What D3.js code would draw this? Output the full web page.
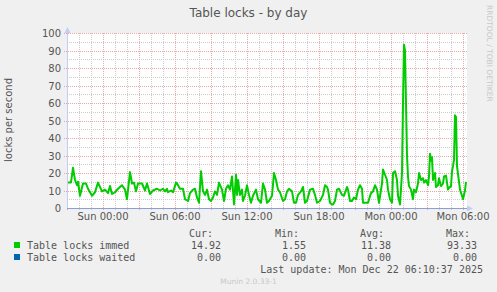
<!DOCTYPE html>
<html>
<head>
<meta charset="utf-8" />
<title>Table locks - by day</title>
<style>
  body { margin: 0; background: #f0f0f0; }
  svg { display: block; }
  .sans { font-family: "DejaVu Sans", sans-serif; }
  .mono { font-family: "DejaVu Sans Mono", monospace; }
</style>
</head>
<body>
<div id="chart"></div>
<script src="https://d3js.org/d3.v7.min.js"></script>
<script>
// sample times, minutes after Sat 21:00, and readings (locks per second)
var sampleMinutes = [0,10,20,30,40,50,55,65,80,95,105,125,140,155,175,190,205,215,225,240,
  255,275,290,300,315,325,335,345,355,375,390,400,415,430,450,465,480,490,500,505,
  520,530,545,550,565,580,590,605,615,630,640,650,660,670,680,690,700,710,720,730,
  740,750,760,775,785,795,805,815,825,835,845,850,855,865,875,880,890,900,910,920,
  930,945,955,970,980,990,1000,1010,1025,1035,1045,1055,1065,1080,1090,1100,1110,1125,1135,1145,
  1155,1170,1180,1190,1200,1215,1230,1240,1250,1265,1280,1290,1300,1305,1315,1325,1330,1340,1350,1360,
  1375,1385,1400,1405,1415,1425,1435,1445,1455,1465,1475,1480,1495,1505,1520,1530,1540,1550,1560,1575,
  1580,1590,1600,1605,1615,1625,1630,1640,1650,1655,1665,1675,1680,1685,1690,1695,1700,1705,1710,1720,
  1730,1735,1745,1755,1760,1770,1780,1785,1795,1805,1810,1815,1820,1825,1830,1840,1845,1855,1860,1870,
  1880,1885,1895,1905,1910,1920,1925,1930,1935,1940,1945,1950,1960,1965,1975,1980,1990,1995];
var immedValues = [14.6,14.6,14.6,23,16,13,15,7,14,14,11,7,9,14.5,9.5,10.5,8.5,12.6,8,9,
  11,13,10.5,5,20.5,14,14.5,9.5,14,14,10,14,8,10,11,10,11,9.5,11,9,
  10,9,14.5,14,11,11,5,4,8.5,10.5,11,6,3,21,9.5,7.5,10.5,5,4,6,
  9.5,7.5,14.5,10.5,4,11,13,10.5,18,2,19,7.5,16,7.5,10.5,4,7,13,7.5,3,
  7,10.5,5,3,14,10.5,3,4,7,20,16,10.5,9,4,5,9.5,11,9.5,3,3,
  7.5,9.5,12,3,4,10.5,11,7.5,3,4,7.5,13,12,10.5,3,2,2,4,10.5,11,
  7.5,7,12,10.5,4,4,6,5,10.5,13,11,3,3,3,8.5,9.5,13,10.5,3,14,
  22,19,16,10.5,5,3,20,21,16,7,2,20,60,93.33,90,60,30,18,12.5,10.5,
  5,10.5,9,14,20,16,17,14.5,16,13,18,31,27,29,16,20,12,13,17,12.5,
  14,18,18.5,10.5,11.5,12.5,21,24,27.5,53,52,24,15,10.5,7,5,10,14.92];
var waitedValues = sampleMinutes.map(function() { return 0; });

var yTicks = [0,10,20,30,40,50,60,70,80,90,100];
var legendNames = ["Table locks immed", "Table locks waited"];
var legendColors = ["#00cc00", "#0066b3"];
var statHeads = ["Cur:", "Min:", "Avg:", "Max:"];
var statRows = [["14.92", "1.55", "11.38", "93.33"], ["0.00", "0.00", "0.00", "0.00"]];

var W = 497, H = 292;
var start = new Date(Date.UTC(2025, 11, 20, 21, 0));
var end = new Date(Date.UTC(2025, 11, 22, 6, 20));

var svg = d3.select("#chart").append("svg").attr("width", W).attr("height", H);
svg.append("rect").attr("width", W).attr("height", H).attr("fill", "#f0f0f0");

var x = d3.scaleUtc().domain([start, end]).range([67, 467]);
var y = d3.scaleLinear().domain([0, 100]).range([208, 33]);

// plot background
svg.append("rect").attr("x", 67).attr("y", 33).attr("width", 400).attr("height", 175).attr("fill", "#fff");

// grid
var g = svg.append("g").attr("shape-rendering", "crispEdges");
var minorY = d3.range(5, 101, 10);
g.selectAll(".hmin").data(minorY).enter().append("line")
  .attr("x1", 67).attr("x2", 467)
  .attr("y1", d => Math.round(y(d)) + 0.5).attr("y2", d => Math.round(y(d)) + 0.5)
  .attr("stroke", "#cccccc").attr("stroke-dasharray", "1,1");
var hours = d3.utcHour.range(start, end).filter(d => d.getUTCHours() % 3 != 0);
g.selectAll(".vmin").data(hours).enter().append("line")
  .attr("x1", d => Math.round(x(d)) + 0.5).attr("x2", d => Math.round(x(d)) + 0.5)
  .attr("y1", 33).attr("y2", 210)
  .attr("stroke", "#cccccc").attr("stroke-dasharray", "1,1");
g.selectAll(".hmaj").data(yTicks.slice(1)).enter().append("line")
  .attr("x1", 64).attr("x2", 467)
  .attr("y1", d => Math.round(y(d)) + 0.5).attr("y2", d => Math.round(y(d)) + 0.5)
  .attr("stroke", "#e8a8a8").attr("stroke-dasharray", "1,1");
var majors = d3.utcHour.every(3).range(start, end);
g.selectAll(".vmaj").data(majors).enter().append("line")
  .attr("x1", d => Math.round(x(d)) + 0.5).attr("x2", d => Math.round(x(d)) + 0.5)
  .attr("y1", 33).attr("y2", 211)
  .attr("stroke", "#e8a8a8").attr("stroke-dasharray", "1,1");

// data lines
var pts = sampleMinutes.map(function(m, i) {
  return { t: new Date(start.getTime() + m * 60000), v: immedValues[i], w: waitedValues[i] };
});
svg.append("path").datum(pts)
  .attr("fill", "none").attr("stroke", legendColors[0]).attr("stroke-width", 2)
  .attr("stroke-linejoin", "round")
  .attr("d", d3.line().x(d => x(d.t)).y(d => y(d.v)));

// axes
svg.append("line").attr("x1", 67.5).attr("x2", 67.5).attr("y1", 30).attr("y2", 209)
  .attr("stroke", "#c4ccf4");
svg.append("path").attr("d", "M64.5,33 L67.5,27 L70.5,33 Z").attr("fill", "#c4ccf4");
svg.append("path").datum(pts)
  .attr("fill", "none").attr("stroke", "#8c9ed8").attr("stroke-width", 1)
  .attr("d", d3.line().x(d => x(d.t)).y(d => Math.round(y(d.w)) + 0.5));
svg.append("line").attr("x1", 67).attr("x2", 470).attr("y1", 208.5).attr("y2", 208.5)
  .attr("stroke", "#8c9ed8");
svg.append("path").attr("d", "M467,205.5 L473,208.5 L467,211.5 Z").attr("fill", "#c4ccf4");

// tick labels
svg.selectAll(".yl").data(yTicks).enter().append("text")
  .attr("class", "sans").attr("x", 61).attr("y", d => y(d) + 4)
  .attr("text-anchor", "end").attr("font-size", 10).attr("fill", "#555")
  .text(d => d);
var fmt = d3.utcFormat("%a %H:%M");
svg.selectAll(".xl").data(d3.utcHour.every(6).range(start, end)).enter().append("text")
  .attr("class", "sans").attr("x", d => x(d)).attr("y", 220)
  .attr("text-anchor", "middle").attr("font-size", 10).attr("fill", "#555")
  .text(d => fmt(d));

// titles
svg.append("text").attr("class", "sans").attr("x", 248.5).attr("y", 17)
  .attr("text-anchor", "middle").attr("font-size", 12).attr("fill", "#555")
  .text("Table locks - by day");
svg.append("text").attr("class", "sans")
  .attr("transform", "translate(12,120) rotate(-90)")
  .attr("text-anchor", "middle").attr("font-size", 10).attr("fill", "#555")
  .text("locks per second");
svg.append("text").attr("class", "sans")
  .attr("transform", "translate(487,5) rotate(90)")
  .attr("font-size", 7.5).attr("fill", "#c8c8c8")
  .text("RRDTOOL / TOBI OETIKER");

// legend
var headX = [213, 299, 384, 470], valX = [221, 306, 391, 477];
svg.selectAll(".sh").data(statHeads).enter().append("text")
  .attr("class", "mono").attr("x", (d, i) => headX[i]).attr("y", 237)
  .attr("text-anchor", "end").attr("font-size", 10).attr("fill", "#555")
  .text(d => d);
legendNames.forEach(function(name, r) {
  var yy = 249 + r * 12;
  svg.append("rect").attr("x", 14).attr("y", yy - 7).attr("width", 6).attr("height", 6)
    .attr("fill", legendColors[r]);
  svg.append("text").attr("class", "mono").attr("x", 27).attr("y", yy)
    .attr("font-size", 10).attr("fill", "#555").text(name);
  statRows[r].forEach(function(v, i) {
    svg.append("text").attr("class", "mono").attr("x", valX[i]).attr("y", yy)
      .attr("text-anchor", "end").attr("font-size", 10).attr("fill", "#555").text(v);
  });
});
svg.append("text").attr("class", "mono").attr("x", 483).attr("y", 273)
  .attr("text-anchor", "end").attr("font-size", 10).attr("fill", "#555")
  .text("Last update: Mon Dec 22 06:10:37 2025");
svg.append("text").attr("class", "sans").attr("x", 248.5).attr("y", 284)
  .attr("text-anchor", "middle").attr("font-size", 7.5).attr("fill", "#c8c8c8")
  .text("Munin 2.0.33-1");
</script>
</body>
</html>
